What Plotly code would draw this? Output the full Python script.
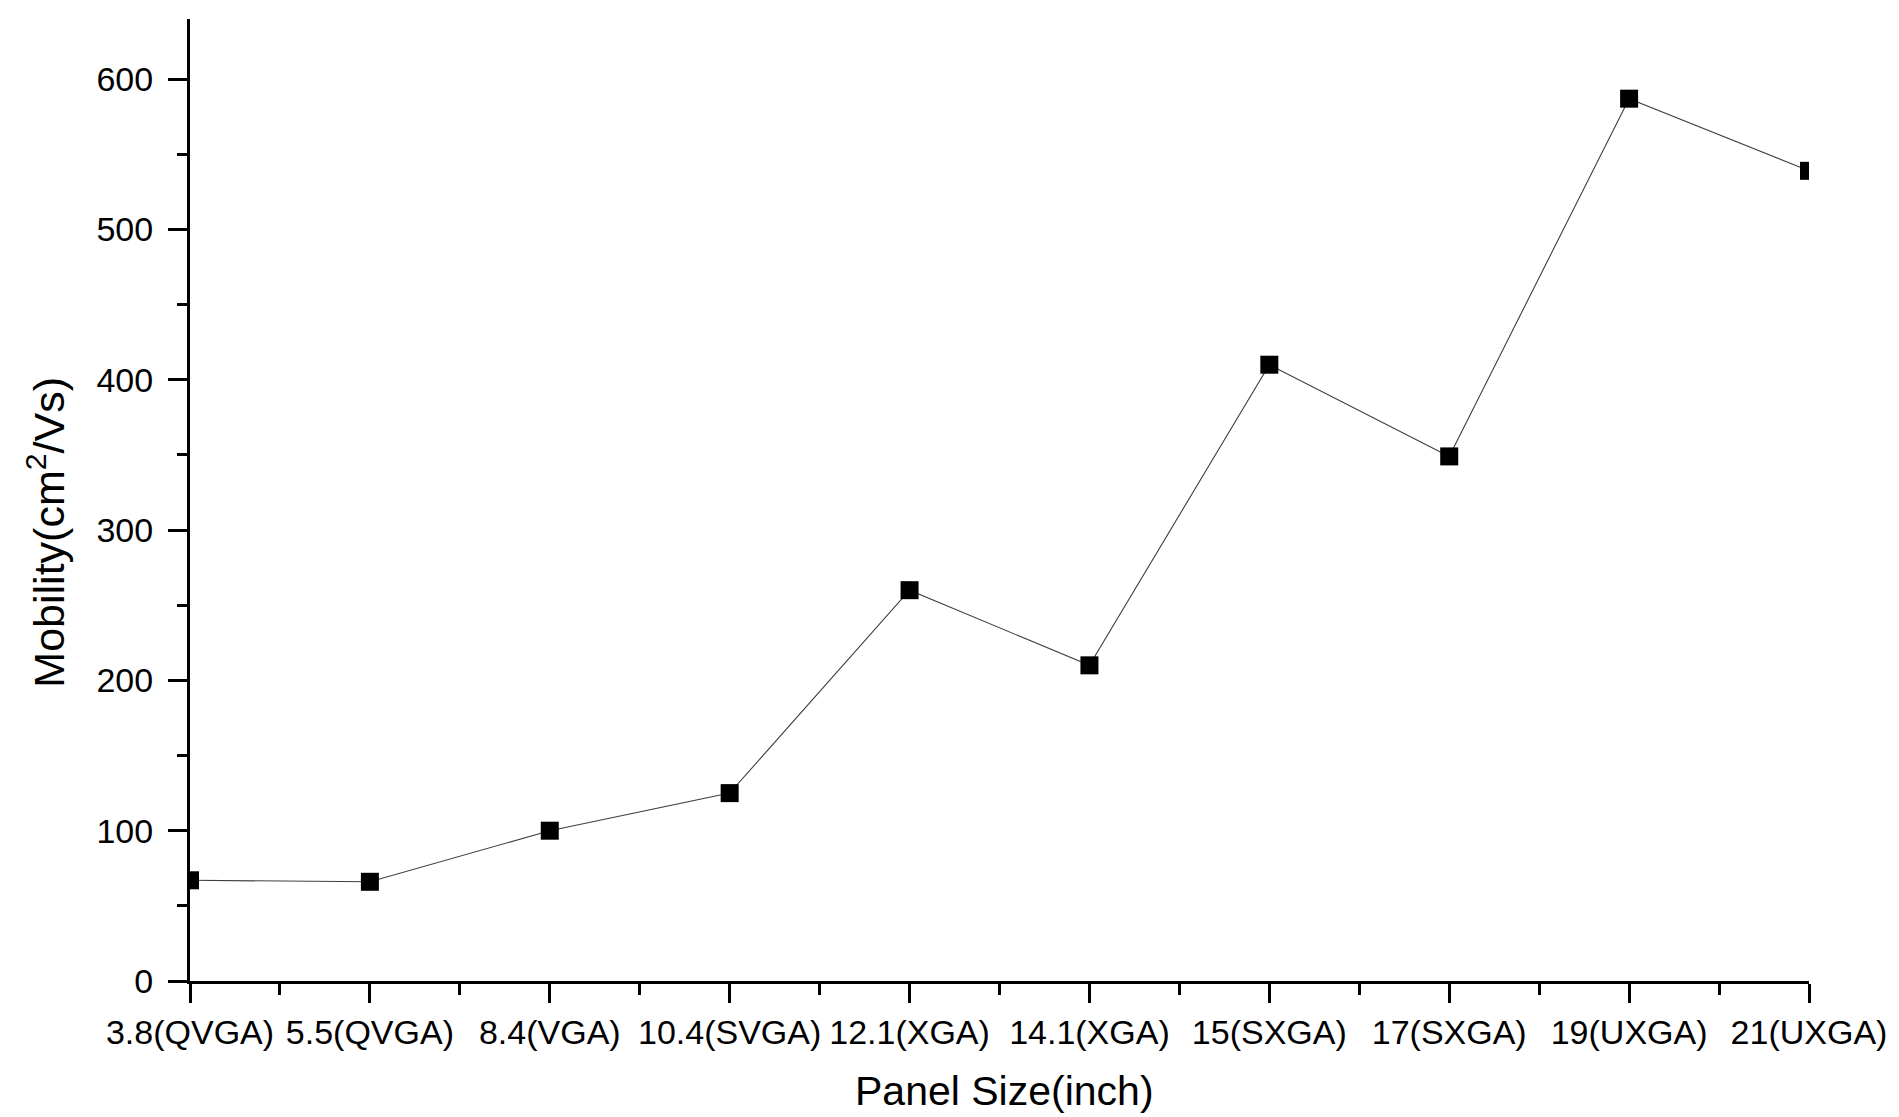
import plotly.graph_objects as go

# Panel size categories and the TFT mobility required for each
panel_sizes = ["3.8(QVGA)", "5.5(QVGA)", "8.4(VGA)", "10.4(SVGA)", "12.1(XGA)",
               "14.1(XGA)", "15(SXGA)", "17(SXGA)", "19(UXGA)", "21(UXGA)"]
mobility = [67, 66, 100, 125, 260, 210, 410, 349, 587, 539]
y_ticks = [0, 100, 200, 300, 400, 500, 600]

x_pos = list(range(len(panel_sizes)))

FONT = "Liberation Sans, Arial, sans-serif"

fig = go.Figure()
fig.add_trace(go.Scatter(
    x=x_pos,
    y=mobility,
    mode="lines+markers",
    line=dict(color="#404040", width=1.1),
    marker=dict(symbol="square", size=18, color="black"),
    cliponaxis=True,
    showlegend=False,
))

axis_common = dict(
    showline=True, linecolor="black", linewidth=3,
    showgrid=False, zeroline=False,
    ticks="outside", tickcolor="black", tickwidth=2.5,
    tickfont=dict(family=FONT, size=34, color="black"),
)

fig.update_xaxes(
    **axis_common,
    range=[0, len(panel_sizes) - 1],
    tickmode="array", tickvals=x_pos, ticktext=panel_sizes,
    ticklen=19, tickangle=0,
    minor=dict(tickmode="linear", tick0=0, dtick=0.5, ticks="outside",
               ticklen=11, tickwidth=2.5, tickcolor="black"),
)
fig.update_yaxes(
    **axis_common,
    range=[0, 640],
    tickmode="array", tickvals=y_ticks,
    ticklen=19, ticklabelstandoff=8,
    minor=dict(tickmode="linear", tick0=0, dtick=50, ticks="outside",
               ticklen=10, tickwidth=2.5, tickcolor="black"),
)

fig.add_annotation(
    text="Mobility(cm<sup>2</sup>/Vs)", textangle=-90,
    xref="paper", yref="paper", x=-0.089, y=0.467,
    xanchor="center", yanchor="middle", showarrow=False,
    font=dict(family=FONT, size=43, color="black"),
)
fig.add_annotation(
    text="Panel Size(inch)",
    xref="paper", yref="paper", x=0.503, y=-0.114,
    xanchor="center", yanchor="middle", showarrow=False,
    font=dict(family=FONT, size=41, color="black"),
)

fig.update_layout(
    width=1899, height=1117,
    margin=dict(l=190, r=85, t=19, b=136),
    paper_bgcolor="white", plot_bgcolor="white",
)

fig.write_html("out.html")
